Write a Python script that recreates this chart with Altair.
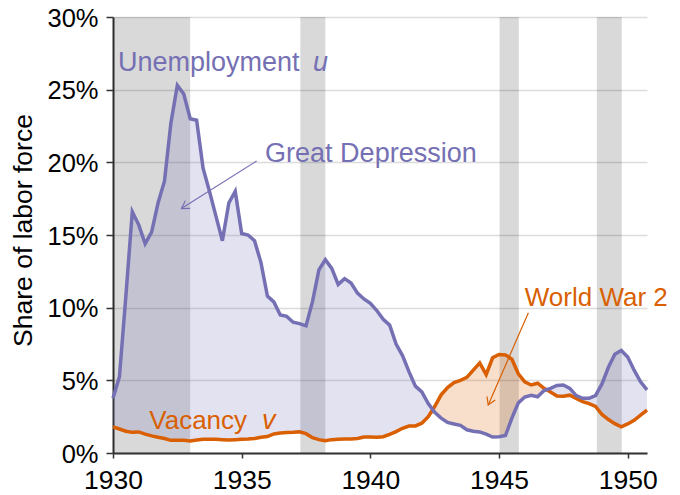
import altair as alt
import pandas as pd

# Quarterly data, 1930Q1 .. 1950Q4 (share of labor force, %)
unemployment = [
    3.76, 5.25, 10.8, 16.6, 15.7, 14.4, 15.2, 17.2,
    18.7, 22.7, 25.3, 24.7, 23.0, 22.9, 19.6, 18.0,
    16.3, 14.6, 17.2, 18.0, 15.1, 15.0, 14.6, 13.1,
    10.8, 10.4, 9.5, 9.4, 9.0, 8.9, 8.75, 10.4,
    12.6, 13.3, 12.7, 11.6, 12.0, 11.7, 11.0, 10.6,
    10.3, 9.8, 9.2, 8.8, 7.5, 6.7, 5.6, 4.6,
    4.2, 3.4, 2.8, 2.4, 2.1, 2.0, 1.9, 1.6,
    1.5, 1.45, 1.3, 1.1, 1.12, 1.2, 2.4, 3.45,
    3.85, 3.97, 3.87, 4.3, 4.45, 4.65, 4.68, 4.45,
    3.95, 3.76, 3.76, 3.95, 4.75, 5.9, 6.8, 7.05,
    6.6, 5.7, 4.9, 4.35,
]
vacancy = [
    1.8, 1.65, 1.5, 1.42, 1.45, 1.3, 1.18, 1.08,
    1.0, 0.87, 0.87, 0.88, 0.83, 0.9, 0.94, 0.95,
    0.95, 0.92, 0.89, 0.92, 0.94, 0.96, 1.0, 1.08,
    1.13, 1.31, 1.38, 1.41, 1.43, 1.46, 1.33, 1.05,
    0.92, 0.85, 0.92, 0.95, 0.96, 0.97, 1.0, 1.1,
    1.1, 1.08, 1.12, 1.28, 1.47, 1.7, 1.85, 1.86,
    2.05, 2.5, 3.2, 4.0, 4.5, 4.85, 5.0, 5.2,
    5.7, 6.2, 5.4, 6.55, 6.78, 6.75, 6.45, 5.45,
    4.9, 4.68, 4.8, 4.45, 4.2, 3.92, 3.9, 3.98,
    3.76, 3.53, 3.4, 3.2, 2.65, 2.3, 2.02, 1.8,
    2.0, 2.25, 2.6, 2.95,
]
years = [1930 + q / 4 for q in range(len(unemployment))]

# Recessions (shaded)
rec_start = [1929.6, 1937.28, 1945.02, 1948.8]
rec_end = [1933.0, 1938.25, 1945.77, 1949.77]

x_ticks = [1930, 1935, 1940, 1945, 1950]
y_ticks = [0, 5, 10, 15, 20, 25, 30]

# Annotations (data units)
u_text = ["Unemployment", "Great Depression"]
u_x = [1930.19, 1935.91]
u_y = [26.3, 20.0]

v_text = ["Vacancy", "World War 2"]
v_x = [1931.41, 1946.0]
v_y = [1.65, 10.1]

sym_text = ["u", "v"]
sym_x = [1937.77, 1935.79]
sym_y = [26.3, 1.65]
sym_color = ["#7570b3", "#d95f02"]

arrow_x = [1935.58, 1946.14]
arrow_y = [20.09, 9.65]
arrow_x2 = [1932.66, 1944.58]
arrow_y2 = [16.82, 3.30]
arrow_color = ["#7570b3", "#d95f02"]
arrow_angle = [148, 113]

PURPLE = "#7570b3"
ORANGE = "#d95f02"
FONT = "Liberation Sans"
FS = 26.5
FS_Y = 25.5

df = pd.DataFrame({"year": years, "u": unemployment, "v": vacancy})
rec = pd.DataFrame({"start": rec_start, "end": rec_end})
ann_u = pd.DataFrame({"text": u_text, "x": u_x, "y": u_y})
ann_v = pd.DataFrame({"text": v_text, "x": v_x, "y": v_y})
sym = pd.DataFrame({"text": sym_text, "x": sym_x, "y": sym_y, "color": sym_color})
arr = pd.DataFrame({"x": arrow_x, "y": arrow_y, "x2": arrow_x2, "y2": arrow_y2,
                    "color": arrow_color, "angle": arrow_angle})

xscale = alt.Scale(domain=[1930, 1950.75], nice=False, zero=False)
yscale = alt.Scale(domain=[0, 30], nice=False)

xaxis = alt.Axis(values=x_ticks, format="d", title=None, grid=False,
                 labelFont=FONT, labelFontSize=FS, labelColor="#000",
                 domainColor="#333", domainWidth=2, tickColor="#333",
                 tickWidth=1.5, tickSize=5, labelPadding=9, labelFlush=False)
yaxis = alt.Axis(values=y_ticks, labelExpr="datum.value + '%'",
                 title="Share of labor force", grid=True,
                 gridColor="#dcdcdc", gridWidth=1.5,
                 labelFont=FONT, labelFontSize=FS_Y, labelColor="#000",
                 labelBaseline="alphabetic", labelOffset=9.3,
                 domainColor="#333", domainWidth=2, tickColor="#333",
                 tickWidth=1.5, tickSize=7, labelPadding=8,
                 titleFont=FONT, titleFontSize=FS, titleFontWeight="normal",
                 titleColor="#000", titleAngle=270, titleX=-90, titleY=213,
                 titleAlign="center", titleBaseline="middle")


def X(f):
    return alt.X(f, type="quantitative", scale=xscale, axis=xaxis)


def Y(f):
    return alt.Y(f, type="quantitative", scale=yscale, axis=yaxis)


bands = alt.Chart(rec).mark_rect(color="#000", opacity=0.15, clip=True).encode(
    x=X("start"), x2="end")

base = alt.Chart(df).transform_calculate(lo="min(datum.u, datum.v)")

fill_u = base.mark_area(color=PURPLE, opacity=0.2).encode(
    x=X("year"), y=Y("u"), y2="lo:Q")
fill_v = base.mark_area(color=ORANGE, opacity=0.2).encode(
    x=X("year"), y=Y("v"), y2="lo:Q")

line_u = base.mark_line(color=PURPLE, strokeWidth=3.5).encode(
    x=X("year"), y=Y("u"))
line_v = base.mark_line(color=ORANGE, strokeWidth=3.5).encode(
    x=X("year"), y=Y("v"))

texts_u = alt.Chart(ann_u).mark_text(font=FONT, fontSize=27, align="left",
                                      baseline="alphabetic", color=PURPLE).encode(
    x=X("x"), y=Y("y"), text="text:N")

texts_v = alt.Chart(ann_v).mark_text(font=FONT, fontSize=26, align="left",
                                      baseline="alphabetic", color=ORANGE).encode(
    x=X("x"), y=Y("y"), text="text:N")

syms = alt.Chart(sym).mark_text(font=FONT, fontSize=27, align="left",
                                 baseline="alphabetic", fontStyle="italic").encode(
    x=X("x"), y=Y("y"), text="text:N",
    color=alt.Color("color:N", scale=None))

arrows = alt.Chart(arr).mark_rule(strokeWidth=1.2).encode(
    x=X("x"), y=Y("y"), x2="x2:Q", y2="y2:Q",
    color=alt.Color("color:N", scale=None))

heads = alt.Chart(arr).mark_point(shape="M-1,-0.6L0,0L-1,0.6", filled=False,
                                  strokeWidth=1.2, size=220, opacity=1).encode(
    x=X("x2"), y=Y("y2"),
    color=alt.Color("color:N", scale=None),
    angle=alt.Angle("angle:Q", scale=None))

chart = alt.layer(bands, fill_u, fill_v, line_v, line_u,
                  texts_u, texts_v, syms, arrows, heads).properties(
    width=534, height=436,
    autosize=alt.AutoSizeParams(type="none"),
    padding={"left": 105, "top": 9, "right": 25, "bottom": 40},
).configure_view(stroke=None)

chart.save("out.html", embed_options={"renderer": "svg", "actions": False})
